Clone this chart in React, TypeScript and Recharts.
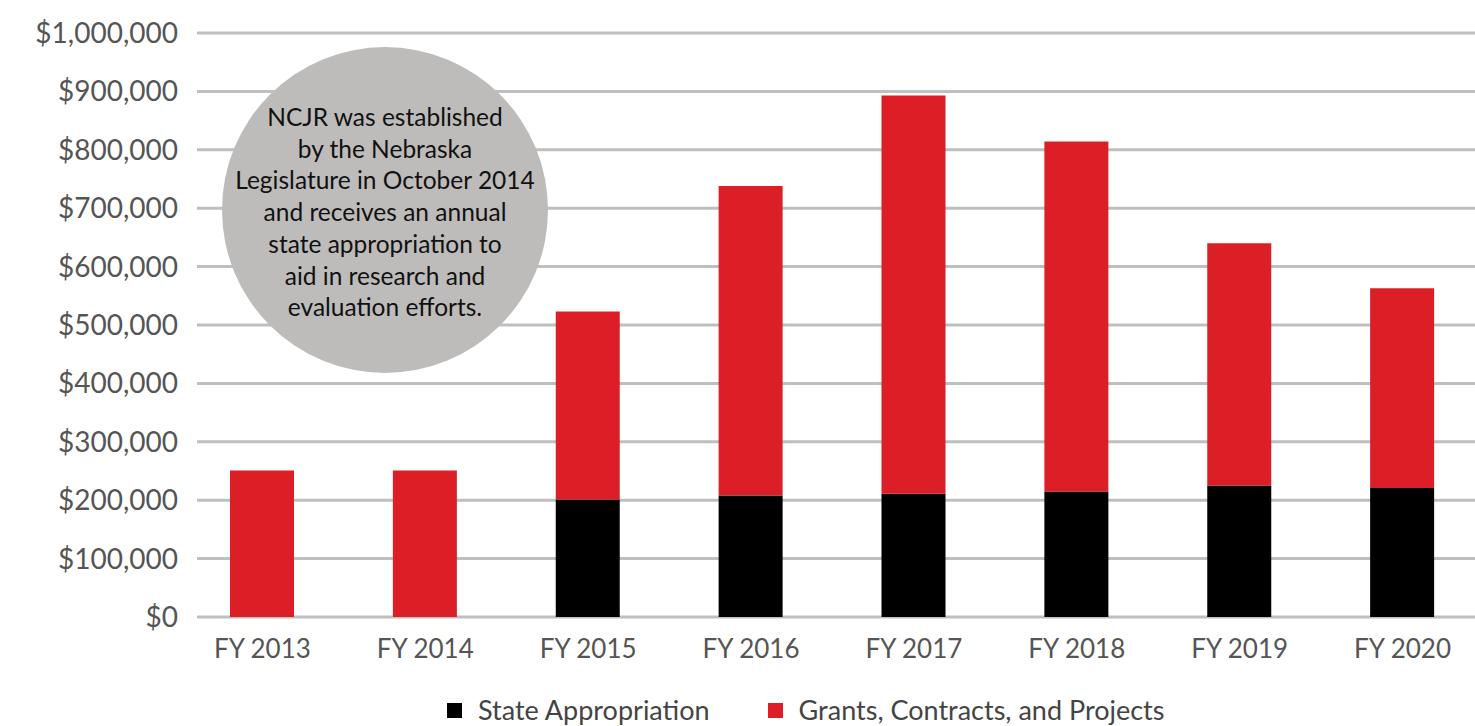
import { BarChart, Bar, XAxis, YAxis, CartesianGrid } from 'recharts';

const years = ['FY 2013', 'FY 2014', 'FY 2015', 'FY 2016', 'FY 2017', 'FY 2018', 'FY 2019', 'FY 2020'];
const stateAppropriation = [0, 0, 201000, 208000, 211000, 215000, 225000, 221000];
const grants = [251000, 251000, 322000, 530000, 682000, 599000, 415000, 342000];
const yTicks = [0, 100000, 200000, 300000, 400000, 500000, 600000, 700000, 800000, 900000, 1000000];

const noteLines = [
  'NCJR was established',
  'by the Nebraska',
  'Legislature in October 2014',
  'and receives an annual',
  'state appropriation to',
  'aid in research and',
  'evaluation efforts.',
];

const FONT = 'Lato, "Open Sans", sans-serif';
const RED = '#dc1f26';

const data = years.map((year, i) => ({
  year,
  state: stateAppropriation[i],
  grants: grants[i],
}));

function money(v: number) {
  return '$' + v.toLocaleString('en-US');
}

// legend drawn as plain html so it doesn't eat into the plot height
function LegendRow() {
  const items = [
    { label: 'State Appropriation', color: '#000' },
    { label: 'Grants, Contracts, and Projects', color: RED },
  ];
  return (
    <div
      style={{
        position: 'absolute',
        left: 447,
        top: 693,
        display: 'flex',
        alignItems: 'center',
        gap: 58,
        fontFamily: FONT,
        fontSize: 27,
        color: '#444',
        lineHeight: '34px',
      }}
    >
      {items.map((it) => (
        <div key={it.label} style={{ display: 'flex', alignItems: 'center', gap: 16 }}>
          <span style={{ width: 15, height: 15, background: it.color, display: 'inline-block' }} />
          <span>{it.label}</span>
        </div>
      ))}
    </div>
  );
}

export default function App() {
  return (
    <div style={{ position: 'absolute', left: 0, top: 0, width: 1475, height: 726, background: '#fff' }}>
      <BarChart
        width={1475}
        height={726}
        data={data}
        margin={{ top: 33, right: 0, left: 0, bottom: 0 }}
        barSize={64}
      >
        <CartesianGrid vertical={false} stroke="#bfbfbf" strokeWidth={3} />
        <XAxis
          dataKey="year"
          axisLine={false}
          tickLine={false}
          tickMargin={17}
          padding={{ left: -16, right: -9 }}
          height={109}
          tick={{ fill: '#555', fontSize: 26, fontFamily: FONT }}
          interval={0}
        />
        <YAxis
          width={197}
          domain={[0, 1000000]}
          ticks={yTicks}
          axisLine={false}
          tickLine={false}
          tickMargin={13}
          tickFormatter={money}
          tick={{ fill: '#555', fontSize: 28, fontFamily: FONT }}
          interval={0}
        />
        <Bar dataKey="state" name="State Appropriation" stackId="a" fill="#000" isAnimationActive={false} />
        <Bar dataKey="grants" name="Grants, Contracts, and Projects" stackId="a" fill={RED} isAnimationActive={false} />
      </BarChart>
      <LegendRow />
      <div
        style={{
          position: 'absolute',
          left: 222,
          top: 47,
          width: 326,
          height: 326,
          borderRadius: '50%',
          background: '#bdbcbb',
          display: 'flex',
          flexDirection: 'column',
          alignItems: 'center',
          justifyContent: 'center',
          paddingTop: 4,
          boxSizing: 'border-box',
          fontFamily: FONT,
          fontSize: 24.5,
          lineHeight: '31.7px',
          color: '#111',
          textAlign: 'center',
        }}
      >
        {noteLines.map((l) => (
          <div key={l}>{l}</div>
        ))}
      </div>
    </div>
  );
}
